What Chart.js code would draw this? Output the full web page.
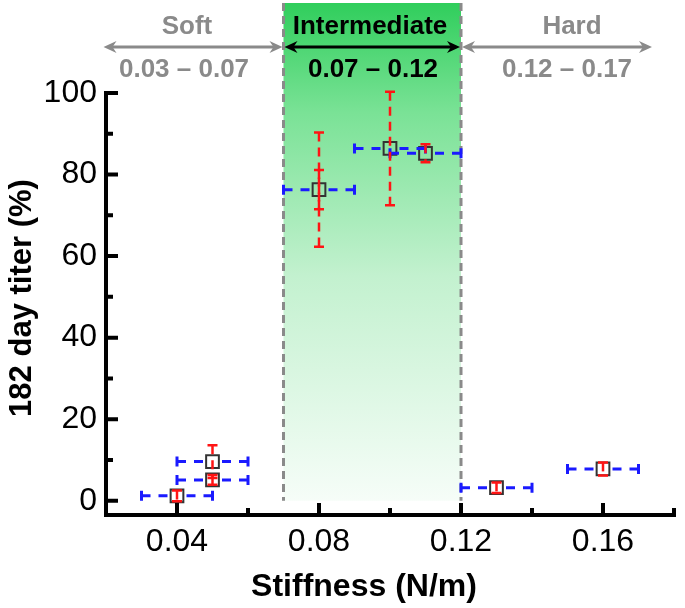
<!DOCTYPE html>
<html><head><meta charset="utf-8">
<script src="https://cdn.jsdelivr.net/npm/chart.js@4"></script>
<style>html,body{margin:0;padding:0;background:#fff}</style>
</head><body>
<canvas id="c" width="685" height="608"></canvas>
<script>
// ---- data ----
const stiffness    = [0.04, 0.05, 0.05, 0.08, 0.10, 0.11, 0.13, 0.16];
const titer        = [1.2, 5.1, 9.6, 76.3, 86.4, 85.2, 3.2, 7.8];
const stiffnessErr = [0.01, 0.01, 0.01, 0.01, 0.01, 0.01, 0.01, 0.01];
const titerErr     = [1.3, 1.2, 4.0, 14.0, 13.9, 2.2, 1.3, 1.6];
const titerErrInner= [null, null, null, 4.8, null, null, null, null];
const xTicks       = [0.04, 0.08, 0.12, 0.16];
const xTickLabels  = ['0.04', '0.08', '0.12', '0.16'];
const xMinorTicks  = [0.06, 0.10, 0.14, 0.18];
const yTicks       = [0, 20, 40, 60, 80, 100];
const yTickLabels  = ['0', '20', '40', '60', '80', '100'];
const yMinorTicks  = [10, 30, 50, 70, 90];
const regionNames  = ['Soft', 'Intermediate', 'Hard'];
const regionRanges = ['0.03 – 0.07', '0.07 – 0.12', '0.12 – 0.17'];
const regionStart  = [0.0193, 0.07, 0.12];
const regionEnd    = [0.07, 0.12, 0.1738];
const xTitle = 'Stiffness (N/m)';
const yTitle = '182 day titer (%)';

const FAM = "'Liberation Sans', Arial, Helvetica, sans-serif";

function arrowHead(ctx, x, y, dir) {
  ctx.beginPath();
  ctx.moveTo(x, y);
  ctx.lineTo(x + dir * 13, y - 6);
  ctx.lineTo(x + dir * 9, y);
  ctx.lineTo(x + dir * 13, y + 6);
  ctx.closePath();
  ctx.fill();
}

const custom = {
  id: 'custom',
  beforeDraw(chart) {
    const ctx = chart.ctx;
    ctx.save();
    ctx.fillStyle = '#fff';
    ctx.fillRect(0, 0, chart.width, chart.height);
    ctx.restore();
  },
  beforeDatasetsDraw(chart) {
    const {ctx, scales: {x, y}} = chart;
    const x1 = x.getPixelForValue(regionStart[1]);
    const x2 = x.getPixelForValue(regionEnd[1]);
    const yb = y.getPixelForValue(0);
    ctx.save();
    const g = ctx.createLinearGradient(0, 3, 0, yb);
    g.addColorStop(0, 'rgb(48,206,92)');
    g.addColorStop(0.22, 'rgb(122,226,150)');
    g.addColorStop(0.55, 'rgb(195,241,207)');
    g.addColorStop(1, 'rgb(246,253,248)');
    ctx.fillStyle = g;
    ctx.fillRect(x1, 3, x2 - x1, yb - 3);
    ctx.strokeStyle = '#8a8a8a';
    ctx.lineWidth = 3;
    ctx.setLineDash([8, 5]);
    [x1, x2].forEach(px => {
      ctx.beginPath(); ctx.moveTo(px, 3); ctx.lineTo(px, yb); ctx.stroke();
    });
    ctx.restore();
  },
  afterDatasetsDraw(chart) {
    const {ctx, scales: {x, y}} = chart;
    ctx.save();
    const half = 6.5;
    stiffness.forEach((sx, i) => {
      const cx = x.getPixelForValue(sx), cy = y.getPixelForValue(titer[i]);
      const xl = x.getPixelForValue(sx - stiffnessErr[i]);
      const xr = x.getPixelForValue(sx + stiffnessErr[i]);
      ctx.strokeStyle = '#1a1aff'; ctx.lineWidth = 3; ctx.lineCap = 'butt';
      ctx.setLineDash([9, 8]);
      ctx.beginPath(); ctx.moveTo(xl, cy); ctx.lineTo(cx - half, cy); ctx.stroke();
      ctx.beginPath(); ctx.moveTo(xr, cy); ctx.lineTo(cx + half, cy); ctx.stroke();
      ctx.setLineDash([]);
      ctx.beginPath();
      ctx.moveTo(xl, cy - 5); ctx.lineTo(xl, cy + 5);
      ctx.moveTo(xr, cy - 5); ctx.lineTo(xr, cy + 5);
      ctx.stroke();
    });
    stiffness.forEach((sx, i) => {
      const cx = x.getPixelForValue(sx);
      [titerErr[i], titerErrInner[i]].forEach(e => {
        if (e == null) return;
        const yt = y.getPixelForValue(titer[i] + e);
        const ybm = y.getPixelForValue(titer[i] - e);
        ctx.strokeStyle = '#ff1414'; ctx.lineWidth = 2.5;
        ctx.setLineDash([9, 6]);
        ctx.beginPath(); ctx.moveTo(cx, yt); ctx.lineTo(cx, ybm); ctx.stroke();
        ctx.setLineDash([]);
        ctx.beginPath();
        ctx.moveTo(cx - 5, yt); ctx.lineTo(cx + 5, yt);
        ctx.moveTo(cx - 5, ybm); ctx.lineTo(cx + 5, ybm);
        ctx.stroke();
      });
    });
    ctx.restore();
  },
  afterDraw(chart) {
    const {ctx, chartArea: ca, scales: {x, y}} = chart;
    ctx.save();
    // axes
    ctx.strokeStyle = '#000'; ctx.lineWidth = 4; ctx.lineCap = 'square'; ctx.lineJoin = 'miter';
    ctx.beginPath();
    ctx.moveTo(ca.left, ca.top); ctx.lineTo(ca.left, ca.bottom); ctx.lineTo(ca.right, ca.bottom);
    ctx.stroke();
    ctx.lineCap = 'butt';
    ctx.beginPath();
    yTicks.forEach(v => { const p = y.getPixelForValue(v); ctx.moveTo(ca.left, p); ctx.lineTo(ca.left + 12, p); });
    yMinorTicks.forEach(v => { const p = y.getPixelForValue(v); ctx.moveTo(ca.left, p); ctx.lineTo(ca.left + 7, p); });
    xTicks.forEach(v => { const p = x.getPixelForValue(v); ctx.moveTo(p, ca.bottom); ctx.lineTo(p, ca.bottom - 12); });
    xMinorTicks.forEach(v => { const p = x.getPixelForValue(v); ctx.moveTo(p, ca.bottom); ctx.lineTo(p, ca.bottom - 7); });
    ctx.stroke();

    // axis titles
    ctx.fillStyle = '#000';
    ctx.textAlign = 'center'; ctx.textBaseline = 'middle';
    ctx.font = 'bold 32px ' + FAM;
    ctx.fillText(xTitle, 364, 587);
    ctx.save();
    ctx.translate(22, 298);
    ctx.rotate(-Math.PI / 2);
    ctx.font = 'bold 31px ' + FAM;
    ctx.fillText(yTitle, 0, 0);
    ctx.restore();

    // header
    const nameX = [187, 370, 572];
    const rangeX = [184, 373, 567];
    const cols = ['#8a8a8a', '#000', '#8a8a8a'];
    ctx.font = 'bold 26px ' + FAM;
    ctx.textBaseline = 'alphabetic';
    regionNames.forEach((n, i) => {
      ctx.fillStyle = cols[i];
      ctx.fillText(n, nameX[i], 34);
      ctx.fillText(regionRanges[i], rangeX[i], 77);
      const a = x.getPixelForValue(regionStart[i]) + (i === 0 ? 0 : 1);
      const b = x.getPixelForValue(regionEnd[i]) - (i === 2 ? 0 : 1);
      ctx.strokeStyle = cols[i]; ctx.lineWidth = 3;
      ctx.beginPath(); ctx.moveTo(a + 8, 47); ctx.lineTo(b - 8, 47); ctx.stroke();
      arrowHead(ctx, a, 47, 1);
      arrowHead(ctx, b, 47, -1);
    });
    ctx.restore();
  }
};

new Chart(document.getElementById('c'), {
  type: 'scatter',
  data: {
    datasets: [{
      data: stiffness.map((v, i) => ({x: v, y: titer[i]})),
      pointStyle: 'rect',
      pointRadius: 9,
      pointHoverRadius: 9,
      borderColor: '#333',
      borderWidth: 2,
      backgroundColor: 'rgba(0,0,0,0)',
      showLine: false
    }]
  },
  options: {
    responsive: false,
    animation: false,
    devicePixelRatio: 1,
    layout: {padding: {top: 93, right: 7, left: 0, bottom: 0}},
    plugins: {legend: {display: false}, tooltip: {enabled: false}},
    scales: {
      x: {
        type: 'linear', min: 0.02, max: 0.18,
        afterBuildTicks: s => { s.ticks = xTicks.map(v => ({value: v})); },
        afterFit: s => { s.height = 93; },
        ticks: {callback: (v, i) => xTickLabels[i], font: {family: FAM, size: 32}, color: '#000', padding: 8, maxRotation: 0, autoSkip: false},
        grid: {display: false, drawTicks: false},
        border: {display: false}
      },
      y: {
        type: 'linear', min: -3.5, max: 100,
        afterBuildTicks: s => { s.ticks = yTicks.map(v => ({value: v})); },
        afterFit: s => { s.width = 106; },
        ticks: {callback: (v, i) => yTickLabels[i], font: {family: FAM, size: 32}, color: '#000', padding: 9, autoSkip: false},
        grid: {display: false, drawTicks: false},
        border: {display: false}
      }
    }
  },
  plugins: [custom]
});
</script>
</body></html>
